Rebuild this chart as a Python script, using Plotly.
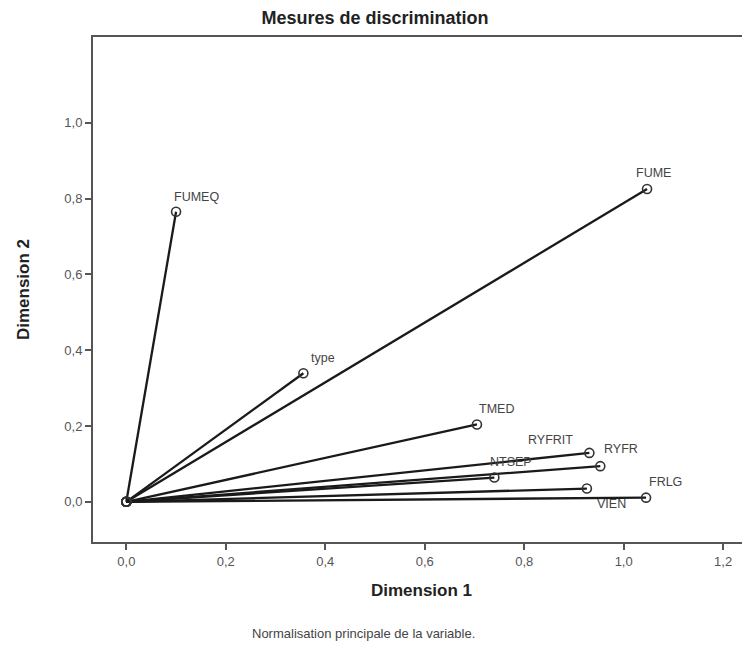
import plotly.graph_objects as go

variables = ["FUMEQ", "type", "FUME", "TMED", "RYFRIT", "RYFR", "NTSEP", "VIEN", "FRLG"]
dim1 = [0.100, 0.356, 1.047, 0.705, 0.931, 0.953, 0.740, 0.926, 1.045]
dim2 = [0.765, 0.339, 0.825, 0.204, 0.129, 0.094, 0.064, 0.035, 0.011]
x_ticks = [0.0, 0.2, 0.4, 0.6, 0.8, 1.0, 1.2]
y_ticks = [0.0, 0.2, 0.4, 0.6, 0.8, 1.0]

# label offsets in pixels (dx, dy) relative to each point
label_offsets = {
    "FUMEQ": (20, -15), "type": (20, -15), "FUME": (6, -16), "TMED": (20, -15),
    "RYFRIT": (-39, -13), "RYFR": (21, -17), "NTSEP": (17, -16),
    "VIEN": (25, 15), "FRLG": (19, -16),
}

W, H = 742, 638
L, T, B = 85, 29, 104
plot_h = H - T - B

fig = go.Figure()
for name, x, y in zip(variables, dim1, dim2):
    fig.add_trace(go.Scatter(x=[0, x], y=[0, y], mode="lines",
                             line=dict(color="#1a1a1a", width=2.3), showlegend=False,
                             hoverinfo="skip"))
fig.add_trace(go.Scatter(x=[0] * len(variables) + dim1, y=[0] * len(variables) + dim2,
                         mode="markers",
                         marker=dict(symbol="circle-open", size=9, color="#333333",
                                     line=dict(width=1.6)),
                         showlegend=False))

for name, x, y in zip(variables, dim1, dim2):
    dx, dy = label_offsets[name]
    fig.add_annotation(x=x, y=y, text=name, showarrow=False, xshift=dx, yshift=-dy,
                       font=dict(family="Liberation Sans, Arial", size=12.5, color="#444444"))

fig.add_annotation(x=(363 - 8 - L) / (W - L), xref="paper", xanchor="center",
                   y=-(625 - (H - B)) / plot_h, yref="paper", yanchor="middle",
                   text="Normalisation principale de la variable.", showarrow=False,
                   font=dict(family="Liberation Sans, Arial", size=13, color="#444444"))

fig.update_layout(
    width=W, height=H,
    margin=dict(l=L, r=0, t=T, b=B),
    plot_bgcolor="white", paper_bgcolor="white",
    separators=", ",
    title=dict(text="<b>Mesures de discrimination</b>", x=(375 - 8) / W, xanchor="center",
               y=1 - 10 / H, yanchor="middle",
               font=dict(family="Liberation Sans, Arial", size=18, color="#222222")),
    xaxis=dict(range=[-0.067, 1.254], tickvals=x_ticks, tickformat=".1f",
               showgrid=False, zeroline=False, showline=True, mirror=True,
               linecolor="#555555", linewidth=2, ticks="outside", ticklen=6,
               tickcolor="#555555", tickwidth=2,
               tickfont=dict(family="Liberation Sans, Arial", size=13, color="#555555"),
               title=dict(text="<b>Dimension 1</b>", standoff=17,
                          font=dict(family="Liberation Sans, Arial", size=17, color="#222222"))),
    yaxis=dict(range=[-0.106, 1.226], tickvals=y_ticks, tickformat=".1f",
               showgrid=False, zeroline=False, showline=True, mirror=False,
               linecolor="#555555", linewidth=2, ticks="outside", ticklen=6,
               tickcolor="#555555", tickwidth=2,
               tickfont=dict(family="Liberation Sans, Arial", size=13, color="#555555"),
               title=dict(text="<b>Dimension 2</b>", standoff=30,
                          font=dict(family="Liberation Sans Narrow, Arial Narrow, Liberation Sans", size=17,
                                    color="#222222"))),
)

fig.write_html("out.html")
